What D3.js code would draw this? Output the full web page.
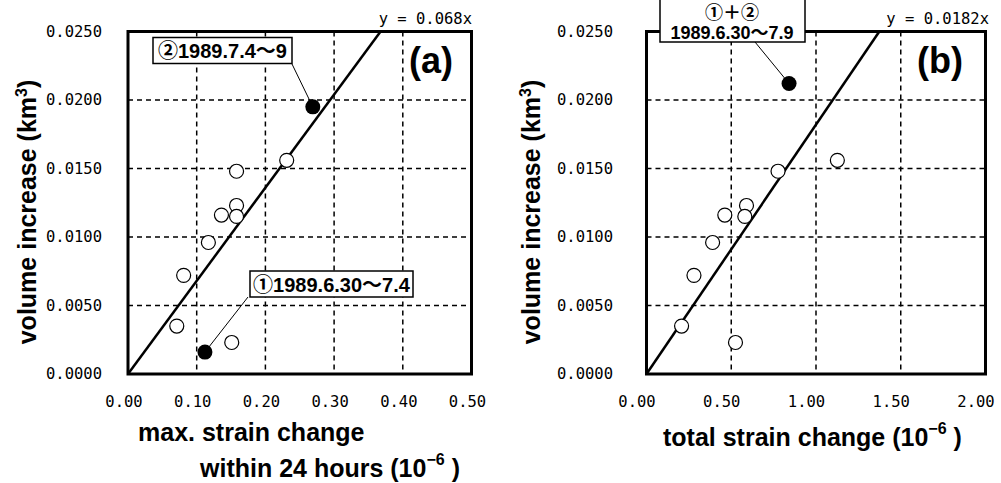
<!DOCTYPE html>
<html>
<head>
<meta charset="utf-8">
<script src="https://cdn.jsdelivr.net/npm/d3@7"></script>
<style>
  html, body { margin: 0; padding: 0; background: #fff; }
  svg { display: block; }
  .tick text { font-family: "DejaVu Sans Mono", "Liberation Mono", monospace; font-size: 15.5px; fill: #000; }
  .title { font-family: "Liberation Sans", Arial, "Noto Sans CJK JP", sans-serif; font-weight: bold; font-size: 25px; fill: #000; }
  .ann { font-family: "Liberation Sans", Arial, "Noto Sans CJK JP", sans-serif; font-weight: bold; fill: #000; }
  .eq { font-family: "DejaVu Sans Mono", "Liberation Mono", monospace; font-size: 15.5px; fill: #000; }
</style>
</head>
<body>
<svg id="chart" width="1001" height="483"></svg>
<script>
// ---------------- data ----------------
const yTicks  = [0, 0.005, 0.010, 0.015, 0.020, 0.025];
const xTicksA = [0, 0.1, 0.2, 0.3, 0.4, 0.5];
const xTicksB = [0, 0.5, 1.0, 1.5, 2.0];

// open circles (other events): volume increase (km^3)
const volume      = [0.0156, 0.0148, 0.0123, 0.0116, 0.0115, 0.0096, 0.0072, 0.0035, 0.0023];
// max. strain change within 24 hours (1e-6)
const maxStrain24 = [0.231, 0.158, 0.158, 0.136, 0.158, 0.117, 0.081, 0.071, 0.151];
// total strain change (1e-6)
const totalStrain = [1.126, 0.776, 0.590, 0.462, 0.580, 0.390, 0.280, 0.207, 0.525];

// filled circles: 1989 events
const event1 = { label: "\u24601989.6.30\uFF5E7.4", strain24: 0.112, volume: 0.0016 };
const event2 = { label: "\u24611989.7.4\uFF5E9",   strain24: 0.269, volume: 0.0195 };
const eventSum = { label1: "\u2460\uFF0B\u2461", label2: "1989.6.30\uFF5E7.9", total: 0.841, volume: 0.0212 };

const slopeA = 0.068;
const slopeB = 0.0182;
const eqA = "y = 0.068x";
const eqB = "y = 0.0182x";

// ---------------- layout ----------------
const svg = d3.select("#chart");
const yDomain = [0, 0.025];

function panel(cfg) {
  const x = d3.scaleLinear().domain(cfg.xDomain).range([cfg.left, cfg.right]);
  const y = d3.scaleLinear().domain(yDomain).range([cfg.bottom, cfg.top]);
  const g = svg.append("g");

  // grid
  g.append("g").selectAll("line.vg")
    .data(cfg.xTicks.slice(1, -1)).join("line")
    .attr("x1", d => x(d)).attr("x2", d => x(d))
    .attr("y1", cfg.top).attr("y2", cfg.bottom)
    .attr("stroke", "#000").attr("stroke-width", 1.5).attr("stroke-dasharray", "5,4");
  g.append("g").selectAll("line.hg")
    .data(yTicks.slice(1, -1)).join("line")
    .attr("y1", d => y(d)).attr("y2", d => y(d))
    .attr("x1", cfg.left).attr("x2", cfg.right)
    .attr("stroke", "#000").attr("stroke-width", 1.5).attr("stroke-dasharray", "5,4");

  // axes labels
  const ya = g.append("g").attr("transform", `translate(${cfg.left},0)`)
    .call(d3.axisLeft(y).tickValues(yTicks).tickSize(0).tickPadding(cfg.yPad).tickFormat(d3.format(".4f")));
  ya.select(".domain").remove();
  const xa = g.append("g").attr("transform", `translate(0,${cfg.bottom})`)
    .call(d3.axisBottom(x).tickValues(cfg.xTicks).tickSize(0).tickPadding(22).tickFormat(d3.format(".2f")));
  xa.select(".domain").remove();
  xa.selectAll("text").attr("dx", cfg.xShift);

  // regression line
  const xEnd = Math.min(cfg.xDomain[1], yDomain[1] / cfg.slope);
  g.append("line")
    .attr("x1", x(0)).attr("y1", y(0))
    .attr("x2", x(xEnd)).attr("y2", y(cfg.slope * xEnd))
    .attr("stroke", "#000").attr("stroke-width", 2.5);

  // equation
  g.append("text").attr("class", "eq")
    .attr("x", cfg.eqX).attr("y", 24).attr("text-anchor", "end").text(cfg.eq);

  // open circles
  g.append("g").selectAll("circle")
    .data(cfg.xs.map((v, i) => [v, volume[i]])).join("circle")
    .attr("cx", d => x(d[0])).attr("cy", d => y(d[1])).attr("r", 7)
    .attr("fill", "#fff").attr("stroke", "#000").attr("stroke-width", 1.2);

  // border
  g.append("rect")
    .attr("x", cfg.left).attr("y", cfg.top)
    .attr("width", cfg.right - cfg.left).attr("height", cfg.bottom - cfg.top)
    .attr("fill", "none").attr("stroke", "#000").attr("stroke-width", 3);

  // panel letter
  g.append("text").attr("class", "ann").attr("font-size", 36)
    .attr("x", cfg.letterX).attr("y", 73).attr("text-anchor", "middle").text(cfg.letter);

  // y title
  const yt = g.append("text").attr("class", "title")
    .attr("transform", `translate(${cfg.yTitleX},212) rotate(-90)`)
    .attr("text-anchor", "middle");
  yt.append("tspan").text("volume increase (km");
  yt.append("tspan").attr("dy", -9).attr("font-size", 16).text("3");
  yt.append("tspan").attr("dy", 9).text(")");

  return { g, x, y };
}

function filledPoint(p, px, py, lx, ly) {
  p.g.append("line")
    .attr("x1", lx).attr("y1", ly).attr("x2", p.x(px)).attr("y2", p.y(py))
    .attr("stroke", "#000").attr("stroke-width", 1);
  p.g.append("circle").attr("cx", p.x(px)).attr("cy", p.y(py)).attr("r", 7.5).attr("fill", "#000");
}

function box(g, x, y, w, h) {
  g.append("rect").attr("x", x).attr("y", y).attr("width", w).attr("height", h)
    .attr("fill", "#fff").attr("stroke", "#000").attr("stroke-width", 1.5);
}

// ---------------- panel (a) ----------------
const A = panel({
  left: 128, right: 471.5, top: 31.5, bottom: 374,
  xDomain: [0, 0.5], xTicks: xTicksA, xs: maxStrain24, slope: slopeA,
  yPad: 26, xShift: -4.5, eq: eqA, eqX: 472, letter: "(a)", letterX: 431, yTitleX: 36
});
filledPoint(A, event2.strain24, event2.volume, 292, 64);
filledPoint(A, event1.strain24, event1.volume, 248, 297);
box(A.g, 153, 37.5, 139, 26);
A.g.append("text").attr("class", "ann").attr("font-size", 20)
  .attr("x", 222.5).attr("y", 57.5).attr("text-anchor", "middle").text(event2.label);
box(A.g, 250, 271, 163, 26);
A.g.append("text").attr("class", "ann").attr("font-size", 20)
  .attr("x", 331.5).attr("y", 291.5).attr("text-anchor", "middle").text(event1.label);

// x title (a)
A.g.append("text").attr("class", "title").attr("x", 138).attr("y", 441).text("max. strain change");
const xtA = A.g.append("text").attr("class", "title").attr("x", 200).attr("y", 477);
xtA.append("tspan").text("within 24 hours  (10");
xtA.append("tspan").attr("dy", -12).attr("font-size", 16).text("\u22126");
xtA.append("tspan").attr("dy", 12).text(" )");

// ---------------- panel (b) ----------------
const B = panel({
  left: 646.5, right: 985.5, top: 31.5, bottom: 374,
  xDomain: [0, 2.0], xTicks: xTicksB, xs: totalStrain, slope: slopeB,
  yPad: 33.5, xShift: -10, eq: eqB, eqX: 989, letter: "(b)", letterX: 940, yTitleX: 540
});
filledPoint(B, eventSum.total, eventSum.volume, 755, 42);
box(B.g, 660, -2, 145, 44);
B.g.append("text").attr("class", "ann").attr("font-size", 18)
  .attr("x", 732).attr("y", 19).attr("text-anchor", "middle").text(eventSum.label1);
B.g.append("text").attr("class", "ann").attr("font-size", 18)
  .attr("x", 732).attr("y", 39).attr("text-anchor", "middle").text(eventSum.label2);

const xtB = B.g.append("text").attr("class", "title").attr("x", 663).attr("y", 446);
xtB.append("tspan").text("total strain change (10");
xtB.append("tspan").attr("dy", -12).attr("font-size", 16).text("\u22126");
xtB.append("tspan").attr("dy", 12).text(" )");
</script>
</body>
</html>
